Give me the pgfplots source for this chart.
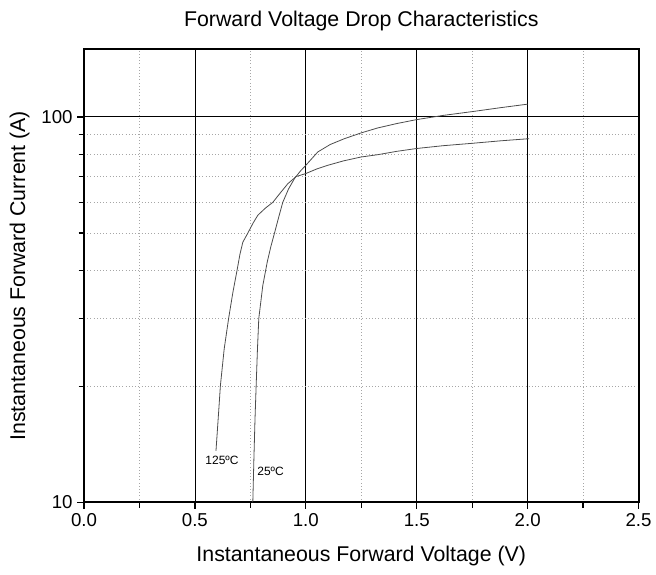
\documentclass[border=0pt]{standalone}
\usepackage{pgfplots}
\pgfplotsset{compat=1.18}
\usepackage{fontspec}
\setmainfont{Liberation Sans}
\begin{document}
\begin{tikzpicture}
\begin{axis}[
  scale only axis,
  width=416pt, height=340pt,
  xmin=0, xmax=2.5, ymin=10, ymax=150,
  ymode=log, log basis y=10,
  xtick={0,0.5,1,1.5,2,2.5},
  minor xtick={0.25,0.75,1.25,1.75,2.25},
  ytick={10,100},
  yticklabels={10,100},
  minor ytick={20,30,40,50,60,70,80,90},
  xticklabel style={/pgf/number format/.cd,fixed,fixed zerofill,precision=1},
  /pgf/number format/assume math mode=true,
  tick label style={font=\fontsize{14}{16}\selectfont},
  label style={font=\fontsize{16}{18}\selectfont},
  title style={font=\fontsize{16}{18}\selectfont, yshift=4pt},
  xlabel style={yshift=-5pt, inner sep=6pt},
  ylabel style={yshift=2pt},
  title={Forward Voltage Drop Characteristics},
  xlabel={Instantaneous Forward Voltage (V)},
  ylabel={Instantaneous Forward Current (A)},
  tick align=outside,
  xtick pos=left, ytick pos=left,
  major tick length=5pt, minor tick length=4pt,
  every tick/.style={black, line width=1pt},
  axis line style={line width=1.5pt},
  grid=both,
  major grid style={black, line width=0.6pt},
  minor grid style={gray!70, dotted, line width=0.6pt},
]
\addplot[line width=0.6pt, black!70] coordinates {
  (0.595,13.6)(0.605,16.5)(0.615,20.1)(0.632,25)(0.652,30)(0.671,35)
  (0.690,40)(0.703,44)(0.716,47.3)(0.739,50)(0.762,53)
  (0.784,55.6)(0.818,58)(0.851,60)(0.885,63.5)(0.919,67.1)(0.956,70)
  (1.0,71.3)(1.05,73.3)(1.099,74.9)(1.17,76.9)
  (1.249,78.7)(1.324,79.8)(1.41,81.4)(1.5,82.8)(1.62,84.2)(1.75,85.4)
  (1.88,86.7)(2.007,87.8)};
\addplot[line width=0.6pt, black!70] coordinates {
  (0.761,10)(0.766,13)(0.771,16.5)(0.776,20)(0.782,25)(0.788,30)
  (0.806,36.5)(0.826,42)(0.842,46)(0.859,50)(0.878,55)
  (0.896,60)(0.922,65)(0.949,69.2)(0.975,72.3)(1.0,74.9)(1.054,81.1)
  (1.11,84.8)(1.174,87.8)(1.25,90.9)(1.324,93.6)(1.41,96.1)
  (1.5,98.4)(1.62,100.9)(1.75,103.2)(1.88,105.7)(2.0,107.9)};
\node[font=\fontsize{9}{10}\selectfont] at (axis cs:0.622,12.85) {125ºC};
\node[font=\fontsize{9}{10}\selectfont] at (axis cs:0.841,12.05) {25ºC};
\end{axis}
% a little margin, as in the reference
\path ([xshift=-4pt,yshift=5pt]current bounding box.north west);
\end{tikzpicture}
\end{document}
